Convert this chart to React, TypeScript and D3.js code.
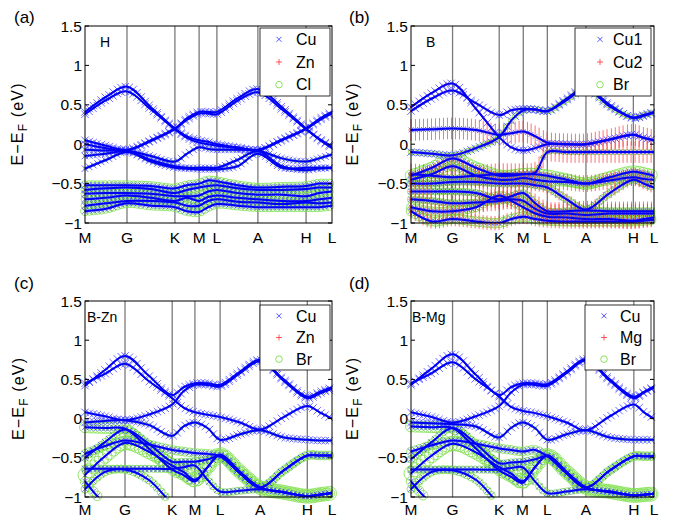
import React, { useEffect, useRef } from "react";
import * as d3 from "d3";

const W = 677;
const H = 517;

const kLabels = ["M", "G", "K", "M", "L", "A", "H", "L"];
const yTicks = [1.5, 1, 0.5, 0, -0.5, -1];
const yTickText = ["1.5", "1", "0.5", "0", "\u22120.5", "\u22121"];

// positions of high-symmetry points along the path (fraction), per panel
const kPosA = [0, 0.17, 0.364, 0.462, 0.534, 0.7, 0.895, 1];
const kPosB = [0, 0.171, 0.363, 0.462, 0.561, 0.72, 0.915, 1];
const kPosC = [0, 0.162, 0.353, 0.445, 0.547, 0.709, 0.9, 1];
const kPosD = [0, 0.171, 0.363, 0.459, 0.561, 0.72, 0.917, 1];

// band energies at 15 nodes: M, ., G, ., K, ., M, ., L, ., A, ., H, ., L
const bandsA = [
  [0.41, 0.6, 0.73, 0.47, 0.2, 0.1, 0.05, 0.03, 0.0, -0.04, -0.07, 0.06, 0.2, 0.32, 0.41],
  [0.38, 0.56, 0.67, 0.44, 0.19, 0.08, 0.02, 0.0, -0.02, -0.05, -0.08, 0.05, 0.19, 0.3, 0.39],
  [0.05, -0.02, -0.07, 0.05, 0.2, 0.33, 0.41, 0.41, 0.41, 0.58, 0.7, 0.47, 0.2, 0.07, -0.03],
  [0.0, -0.05, -0.08, 0.04, 0.19, 0.31, 0.39, 0.39, 0.38, 0.55, 0.66, 0.44, 0.19, 0.06, -0.05],
  [-0.07, -0.08, -0.08, -0.15, -0.22, -0.12, -0.04, -0.06, -0.07, -0.07, -0.08, -0.18, -0.22, -0.18, -0.13],
  [-0.15, -0.12, -0.09, -0.2, -0.28, -0.3, -0.3, -0.3, -0.3, -0.2, -0.09, -0.28, -0.33, -0.31, -0.3],
  [-0.31, -0.2, -0.1, -0.22, -0.3, -0.31, -0.32, -0.32, -0.32, -0.28, -0.12, -0.3, -0.3, -0.3, -0.3],
  [-0.52, -0.52, -0.52, -0.53, -0.56, -0.52, -0.5, -0.46, -0.47, -0.52, -0.55, -0.54, -0.53, -0.5, -0.5],
  [-0.58, -0.56, -0.55, -0.57, -0.62, -0.58, -0.55, -0.53, -0.52, -0.56, -0.58, -0.58, -0.57, -0.55, -0.55],
  [-0.63, -0.62, -0.62, -0.63, -0.66, -0.66, -0.65, -0.6, -0.58, -0.62, -0.64, -0.64, -0.66, -0.62, -0.6],
  [-0.7, -0.68, -0.65, -0.68, -0.72, -0.68, -0.72, -0.67, -0.65, -0.68, -0.7, -0.72, -0.72, -0.7, -0.68],
  [-0.78, -0.75, -0.72, -0.72, -0.74, -0.78, -0.78, -0.72, -0.7, -0.73, -0.74, -0.76, -0.74, -0.75, -0.74],
  [-0.85, -0.82, -0.75, -0.78, -0.8, -0.85, -0.86, -0.8, -0.76, -0.78, -0.8, -0.8, -0.8, -0.8, -0.78],
];
const cuA = [0.9, 0.9, 0.9, 0.9, 0.8, 0.75, 0.75, 0.6, 0.6, 0.6, 0.6, 0.6, 0.6];
const redA = [0, 0, 0, 0, 0, 0, 0, 0, 0, 0, 0, 0, 0];
const halA = [0, 0, 0, 0, 0.05, 0.05, 0.05, 0.45, 0.4, 0.4, 0.4, 0.4, 0.45];

const bandsB = [
  [0.47, 0.65, 0.77, 0.45, 0.09, -0.04, -0.08, -0.05, 0.0, 0.0, 0.0, 0.06, 0.12, 0.08, 0.05],
  [0.42, 0.58, 0.68, 0.52, 0.37, 0.43, 0.45, 0.44, 0.42, 0.58, 0.72, 0.5, 0.33, 0.36, 0.4],
  [-0.1, -0.12, -0.14, -0.05, 0.09, 0.3, 0.43, 0.44, 0.42, 0.56, 0.7, 0.48, 0.34, 0.37, 0.41],
  [0.18, 0.19, 0.2, 0.18, 0.12, 0.14, 0.16, 0.1, 0.02, 0.0, 0.0, 0.06, 0.12, 0.08, 0.05],
  [-0.38, -0.4, -0.42, -0.4, -0.38, -0.38, -0.38, -0.36, -0.1, -0.1, -0.1, -0.1, -0.1, -0.1, -0.1],
  [-0.4, -0.3, -0.18, -0.3, -0.4, -0.4, -0.38, -0.38, -0.4, -0.45, -0.5, -0.42, -0.35, -0.37, -0.4],
  [-0.45, -0.38, -0.28, -0.4, -0.45, -0.45, -0.43, -0.45, -0.47, -0.48, -0.5, -0.46, -0.42, -0.44, -0.45],
  [-0.5, -0.5, -0.48, -0.48, -0.5, -0.5, -0.5, -0.52, -0.55, -0.7, -0.83, -0.62, -0.45, -0.5, -0.55],
  [-0.6, -0.6, -0.6, -0.62, -0.7, -0.66, -0.62, -0.75, -0.85, -0.85, -0.84, -0.85, -0.85, -0.85, -0.85],
  [-0.7, -0.72, -0.75, -0.74, -0.72, -0.7, -0.72, -0.82, -0.88, -0.88, -0.9, -0.88, -0.88, -0.88, -0.88],
  [-0.8, -0.85, -0.85, -0.8, -0.65, -0.72, -0.8, -0.88, -0.92, -0.93, -0.95, -0.95, -0.97, -0.95, -0.93],
  [-0.85, -0.98, -0.95, -0.98, -1.0, -0.95, -0.92, -0.95, -0.97, -0.98, -0.98, -0.98, -0.98, -0.97, -0.96],
];
const cuB = [0.9, 0.9, 0.9, 0.45, 0.4, 0.6, 0.55, 0.6, 0.55, 0.5, 0.5, 0.5];
const redB = [0.1, 0.1, 0.15, 0.9, 0.9, 0.3, 0.7, 0.5, 0.8, 0.8, 0.7, 0.6];
const halB = [0, 0, 0.25, 0, 0.2, 0.65, 0.45, 0.35, 0.35, 0.35, 0.45, 0.5];

const bandsC = [
  [0.42, 0.62, 0.8, 0.55, 0.3, 0.4, 0.45, 0.45, 0.43, 0.6, 0.75, 0.5, 0.28, 0.34, 0.4],
  [0.45, 0.57, 0.7, 0.48, 0.26, 0.14, 0.08, 0.05, 0.02, -0.05, -0.14, 0.02, 0.16, 0.08, 0.0],
  [0.08, 0.03, -0.02, 0.05, 0.18, 0.35, 0.43, 0.43, 0.41, 0.58, 0.73, 0.48, 0.26, 0.32, 0.38],
  [-0.05, -0.03, -0.02, -0.08, -0.22, -0.1, -0.05, -0.12, -0.27, -0.2, -0.15, -0.24, -0.27, -0.28, -0.28],
  [-0.11, -0.12, -0.13, -0.38, -0.65, -0.72, -0.8, -0.62, -0.46, -0.68, -0.88, -0.94, -0.99, -0.97, -0.95],
  [-0.45, -0.35, -0.28, -0.33, -0.4, -0.42, -0.44, -0.45, -0.48, -0.7, -0.88, -0.66, -0.47, -0.47, -0.47],
  [-0.64, -0.64, -0.64, -0.64, -0.64, -0.62, -0.6, -0.78, -0.93, -0.92, -0.9, -0.94, -0.99, -0.97, -0.95],
  [-0.5, -0.3, -0.14, -0.32, -0.55, -0.55, -0.55, -0.52, -0.48, -0.7, -0.88, -0.66, -0.47, -0.47, -0.47],
  [-0.72, -0.48, -0.31, -0.42, -0.6, -0.68, -0.78, -0.62, -0.46, -0.68, -0.88, -0.94, -0.99, -0.97, -0.95],
  [-0.9, -0.68, -0.65, -0.78, -1.08, -1.15, -1.15, -1.15, -1.15, -1.15, -1.15, -1.15, -1.15, -1.15, -1.15],
  [-0.8, -1.08, -1.2, -1.2, -1.2, -1.2, -1.2, -1.2, -1.2, -1.2, -1.2, -1.2, -1.2, -1.2, -1.2],
];
const cuC = [0.9, 0.9, 0.9, 0.9, 0.65, 0.65, 0.65, 0.65, 0.25, 0.55, 0.55];
const redC = [0, 0, 0, 0, 0, 0, 0, 0, 0, 0, 0];
const halC = [0, 0, 0, 0.05, 0.6, 0.45, 0.35, 0.35, 0.8, 0.4, 0.5];

const bandsD = [
  [0.43, 0.64, 0.82, 0.56, 0.3, 0.4, 0.45, 0.45, 0.44, 0.6, 0.76, 0.5, 0.28, 0.34, 0.41],
  [0.45, 0.58, 0.72, 0.5, 0.28, 0.15, 0.1, 0.07, 0.03, -0.05, -0.15, 0.03, 0.18, 0.08, 0.0],
  [0.08, 0.02, -0.05, 0.03, 0.16, 0.33, 0.43, 0.43, 0.42, 0.58, 0.74, 0.48, 0.26, 0.33, 0.39],
  [-0.05, -0.06, -0.07, -0.1, -0.24, -0.12, -0.05, -0.12, -0.27, -0.2, -0.15, -0.24, -0.27, -0.27, -0.27],
  [-0.1, -0.11, -0.12, -0.38, -0.66, -0.74, -0.82, -0.62, -0.47, -0.68, -0.88, -0.93, -0.98, -0.97, -0.96],
  [-0.42, -0.34, -0.28, -0.32, -0.38, -0.4, -0.42, -0.4, -0.48, -0.7, -0.88, -0.66, -0.48, -0.48, -0.48],
  [-0.65, -0.65, -0.65, -0.65, -0.65, -0.63, -0.62, -0.8, -0.95, -0.93, -0.9, -0.94, -0.98, -0.97, -0.96],
  [-0.52, -0.3, -0.12, -0.32, -0.57, -0.56, -0.55, -0.52, -0.48, -0.7, -0.88, -0.66, -0.48, -0.48, -0.48],
  [-0.7, -0.47, -0.32, -0.43, -0.62, -0.7, -0.8, -0.62, -0.47, -0.68, -0.88, -0.93, -0.98, -0.97, -0.96],
  [-0.9, -0.68, -0.66, -0.78, -1.08, -1.15, -1.15, -1.15, -1.15, -1.15, -1.15, -1.15, -1.15, -1.15, -1.15],
  [-0.8, -1.08, -1.2, -1.2, -1.2, -1.2, -1.2, -1.2, -1.2, -1.2, -1.2, -1.2, -1.2, -1.2, -1.2],
];
const cuD = [0.9, 0.9, 0.9, 0.9, 0.65, 0.65, 0.65, 0.65, 0.25, 0.55, 0.55];
const redD = [0, 0, 0, 0, 0, 0, 0, 0, 0, 0, 0];
const halD = [0, 0, 0, 0.05, 0.6, 0.45, 0.35, 0.35, 0.8, 0.4, 0.5];

const legendA = ["Cu", "Zn", "Cl"];
const legendB = ["Cu1", "Cu2", "Br"];
const legendC = ["Cu", "Zn", "Br"];
const legendD = ["Cu", "Mg", "Br"];

const FONT = "'Liberation Sans', Arial, Helvetica, sans-serif";
const BLUE = "#2a2aff";
const RED = "#ff3030";
const GREEN = "#7ee04a";

function nodeFractions(kPos: number[]) {
  const out: number[] = [];
  for (let i = 0; i < kPos.length; i++) {
    out.push(kPos[i]);
    if (i < kPos.length - 1) out.push((kPos[i] + kPos[i + 1]) / 2);
  }
  return out;
}

type Panel = {
  id: string;
  label: string;
  tag: string;
  box: [number, number, number, number];
  kPos: number[];
  bands: number[][];
  cu: number[];
  red: number[];
  hal: number[];
  legend: string[];
  legBox: [number, number, number, number];
  legMarkX: number;
  legTextX: number;
  labelPos: [number, number];
  tagPos: [number, number];
  yLabelX: number;
  xLabelY: number;
};

const panels: Panel[] = [
  { id: "a", label: "(a)", tag: "H", box: [85, 26, 332, 223], kPos: kPosA, bands: bandsA, cu: cuA, red: redA, hal: halA, legend: legendA, legBox: [260, 28, 330, 96], legMarkX: 279, legTextX: 296, labelPos: [14, 23], tagPos: [100, 46.5], yLabelX: 23, xLabelY: 242.5 },
  { id: "b", label: "(b)", tag: "B", box: [411, 26, 654, 223], kPos: kPosB, bands: bandsB, cu: cuB, red: redB, hal: halB, legend: legendB, legBox: [575, 28, 651, 96], legMarkX: 600, legTextX: 613, labelPos: [349, 23], tagPos: [426, 46.5], yLabelX: 358, xLabelY: 242.5 },
  { id: "c", label: "(c)", tag: "B-Zn", box: [85, 301, 332, 497], kPos: kPosC, bands: bandsC, cu: cuC, red: redC, hal: halC, legend: legendC, legBox: [260, 305, 330, 370], legMarkX: 279, legTextX: 296, labelPos: [14, 289], tagPos: [87, 322], yLabelX: 24, xLabelY: 515 },
  { id: "d", label: "(d)", tag: "B-Mg", box: [411, 301, 654, 497], kPos: kPosD, bands: bandsD, cu: cuD, red: redD, hal: halD, legend: legendD, legBox: [585, 305, 651, 370], legMarkX: 604, legTextX: 620, labelPos: [349, 289], tagPos: [412, 322], yLabelX: 358, xLabelY: 515 },
];

function drawPanel(svg: any, p: Panel) {
  const [x0, y0, x1, y1] = p.box;
  const xs = d3.scaleLinear().domain([0, 1]).range([x0, x1]);
  const ys = d3.scaleLinear().domain([-1, 1.5]).range([y1, y0]);
  const g = svg.append("g");
  const clipId = "clip-" + p.id;
  svg.append("clipPath").attr("id", clipId).append("rect").attr("x", x0).attr("y", y0).attr("width", x1 - x0).attr("height", y1 - y0);

  // vertical k-point lines
  g.selectAll(null).data(p.kPos.slice(1, -1)).enter().append("line")
    .attr("x1", (d: number) => xs(d)).attr("x2", (d: number) => xs(d))
    .attr("y1", y0).attr("y2", y1).attr("stroke", "#7a7a7a").attr("stroke-width", 1.3);

  const nodes = nodeFractions(p.kPos);
  const line = d3.line<number>().x((d, i) => xs(nodes[i])).y((d) => ys(d)).curve(d3.curveCatmullRom.alpha(0.5));

  const halLayer = g.append("g");
  const cuLayer = g.append("g");
  const redLayer = g.append("g");
  const lineLayer = g.append("g").attr("clip-path", `url(#${clipId})`);

  p.bands.forEach((band, bi) => {
    const path = lineLayer.append("path").attr("d", line(band)).attr("fill", "none").attr("stroke", "#0000f5").attr("stroke-width", 2);
    const node = path.node() as SVGPathElement;
    const L = node.getTotalLength();
    const pts: { x: number; y: number }[] = [];
    let nextX = x0;
    for (let s = 0; s <= L; s += 0.5) {
      const pt = node.getPointAtLength(s);
      if (pt.x >= nextX) {
        pts.push({ x: pt.x, y: pt.y });
        nextX += 4;
      }
    }
    const inside = pts.filter((q) => q.y >= y0 - 1 && q.y <= y1 + 1 && q.x >= x0 - 1 && q.x <= x1 + 1);
    const cw = p.cu[bi];
    const rw = p.red[bi];
    const hw = p.hal[bi];
    if (hw > 0) {
      halLayer.selectAll(null).data(inside).enter().append("circle")
        .attr("cx", (q: any) => q.x).attr("cy", (q: any) => q.y).attr("r", 1 + 7.5 * hw)
        .attr("fill", "none").attr("stroke", GREEN).attr("stroke-width", 0.8);
    }
    if (cw > 0) {
      const h = 1 + 3 * cw;
      cuLayer.selectAll(null).data(inside).enter().append("path")
        .attr("d", (q: any) => `M${q.x - h},${q.y - h}L${q.x + h},${q.y + h}M${q.x - h},${q.y + h}L${q.x + h},${q.y - h}`)
        .attr("stroke", "#5050ff").attr("stroke-width", 0.85).attr("fill", "none");
    }
    if (rw > 0.05) {
      const v = 12 * rw;
      const hh = 1 + 2 * rw;
      redLayer.selectAll(null).data(inside).enter().append("path")
        .attr("d", (q: any) => `M${q.x},${q.y - v}L${q.x},${q.y + v}M${q.x - hh},${q.y}L${q.x + hh},${q.y}`)
        .attr("stroke", RED).attr("stroke-width", 0.8).attr("fill", "none").attr("opacity", 0.85);
    }
  });

  // frame
  g.append("rect").attr("x", x0).attr("y", y0).attr("width", x1 - x0).attr("height", y1 - y0)
    .attr("fill", "none").attr("stroke", "#000").attr("stroke-width", 1);
  // y ticks
  yTicks.forEach((t, i) => {
    const y = ys(t);
    g.append("line").attr("x1", x0).attr("x2", x0 + 4).attr("y1", y).attr("y2", y).attr("stroke", "#000");
    g.append("line").attr("x1", x1 - 4).attr("x2", x1).attr("y1", y).attr("y2", y).attr("stroke", "#000");
    g.append("text").attr("x", x0 - 3).attr("y", y + 5.5).attr("text-anchor", "end")
      .attr("font-family", FONT).attr("font-size", 15.5).attr("fill", "#000").text(yTickText[i]);
  });
  // x labels
  p.kPos.forEach((k, i) => {
    g.append("text").attr("x", xs(k)).attr("y", p.xLabelY).attr("text-anchor", "middle")
      .attr("font-family", FONT).attr("font-size", 15.5).attr("fill", "#000").text(kLabels[i]);
  });
  // y label
  const yl = g.append("text").attr("transform", `translate(${p.yLabelX},${(y0 + y1) / 2}) rotate(-90)`)
    .attr("text-anchor", "middle").attr("font-family", FONT).attr("font-size", 16).attr("fill", "#000")
    .attr("textLength", 82).attr("lengthAdjust", "spacing");
  yl.append("tspan").text("E\u2212E");
  yl.append("tspan").attr("dy", 4).attr("font-size", 12).text("F");
  yl.append("tspan").attr("dy", -4).text(" (eV)");
  // panel label & tag
  g.append("text").attr("x", p.labelPos[0]).attr("y", p.labelPos[1]).attr("font-family", FONT).attr("font-size", 17).text(p.label);
  g.append("text").attr("x", p.tagPos[0]).attr("y", p.tagPos[1]).attr("font-family", FONT).attr("font-size", 14).text(p.tag);

  // legend
  const [lx0, ly0, lx1, ly1] = p.legBox;
  g.append("rect").attr("x", lx0).attr("y", ly0).attr("width", lx1 - lx0).attr("height", ly1 - ly0)
    .attr("fill", "#fff").attr("stroke", "#000").attr("stroke-width", 0.8);
  const rowH = (ly1 - ly0) / 3;
  p.legend.forEach((name, i) => {
    const cy = ly0 + rowH * (i + 0.5);
    const mx = p.legMarkX;
    if (i === 0) {
      const h = 2.5;
      g.append("path").attr("d", `M${mx - h},${cy - h}L${mx + h},${cy + h}M${mx - h},${cy + h}L${mx + h},${cy - h}`).attr("stroke", BLUE).attr("stroke-width", 0.8);
    } else if (i === 1) {
      const h = 3;
      g.append("path").attr("d", `M${mx - h},${cy}L${mx + h},${cy}M${mx},${cy - h}L${mx},${cy + h}`).attr("stroke", RED).attr("stroke-width", 0.8);
    } else {
      g.append("circle").attr("cx", mx).attr("cy", cy).attr("r", 3.3).attr("fill", "none").attr("stroke", GREEN).attr("stroke-width", 0.9);
    }
    g.append("text").attr("x", p.legTextX).attr("y", cy + 5.8).attr("font-family", FONT).attr("font-size", 16).attr("fill", "#000").text(name);
  });
}

export default function App() {
  const ref = useRef<SVGSVGElement | null>(null);
  useEffect(() => {
    const svg = d3.select(ref.current);
    svg.selectAll("*").remove();
    svg.append("rect").attr("width", W).attr("height", H).attr("fill", "#fff");
    panels.forEach((p) => drawPanel(svg, p));
  }, []);
  return (
    <svg ref={ref} width={W} height={H} style={{ position: "absolute", left: 0, top: 0, display: "block" }} />
  );
}
